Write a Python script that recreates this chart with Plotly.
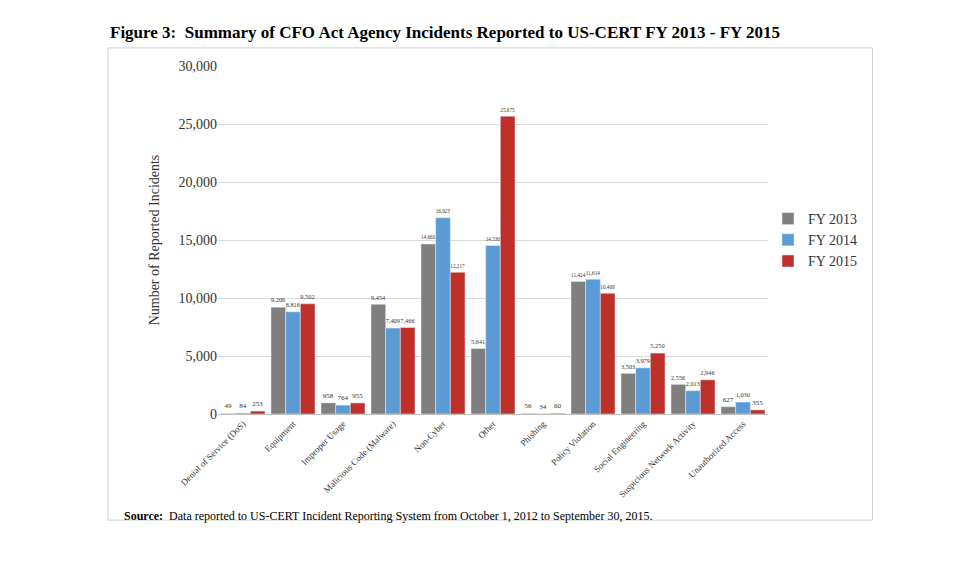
import plotly.graph_objects as go

categories = ["Denial of Service (DoS)", "Equipment", "Improper Usage", "Malicious Code (Malware)",
              "Non-Cyber", "Other", "Phishing", "Policy Violation", "Social Engineering",
              "Suspicious Network Activity", "Unauthorized Access"]
fy2013 = [49, 9206, 958, 9454, 14660, 5641, 56, 11424, 3503, 2556, 627]
fy2014 = [84, 8816, 764, 7409, 16923, 14530, 34, 11614, 3979, 2013, 1030]
fy2015 = [253, 9502, 955, 7466, 12217, 25675, 60, 10408, 5250, 2946, 355]

font = "Liberation Serif"
fig = go.Figure()
for name, vals, col in [("FY 2013", fy2013, "#7f7f7f"), ("FY 2014", fy2014, "#5b9bd5"),
                        ("FY 2015", fy2015, "#c0302a")]:
    fig.add_trace(go.Bar(x=categories, y=vals, name=name, marker_color=col,
                         text=[f"{v:,}" for v in vals], textposition="outside",
                         textfont=dict(size=7, family=font, color="#333"), cliponaxis=False))

fig.update_layout(
    width=965, height=564, plot_bgcolor="white", paper_bgcolor="white",
    margin=dict(l=210, r=205, t=58, b=158), barmode="group", bargap=0.12, bargroupgap=0,
    font=dict(family=font, color="#333"),
    legend=dict(x=1.0, y=0.5, font=dict(size=14), itemwidth=30, tracegroupgap=0),
    annotations=[
        dict(text="<b>Figure 3:  Summary of CFO Act Agency Incidents Reported to US-CERT FY 2013 - FY 2015</b>",
             xref="paper", yref="paper", x=-0.2, y=1.13, xanchor="left", showarrow=False,
             font=dict(size=17, color="black")),
        dict(text="<b>Source:</b>  Data reported to US-CERT Incident Reporting System from October 1, 2012 to September 30, 2015.",
             xref="paper", yref="paper", x=-0.175, y=-0.32, xanchor="left", showarrow=False,
             font=dict(size=12, color="black")),
    ],
    shapes=[dict(type="rect", xref="paper", yref="paper", x0=-0.2, x1=1.19, y0=-0.305, y1=1.052,
                 line=dict(color="#d0d0d0", width=1))],
)
fig.update_yaxes(range=[0, 30000], dtick=5000, tickformat=",", gridcolor="#d9d9d9",
                 tickfont=dict(size=14), title=dict(text="Number of Reported Incidents", font=dict(size=14)),
                 zeroline=False, automargin=False)
fig.update_xaxes(tickangle=-45, tickfont=dict(size=9), showline=True, linecolor="#bfbfbf",
                 automargin=False)
fig.write_html("out.html")
